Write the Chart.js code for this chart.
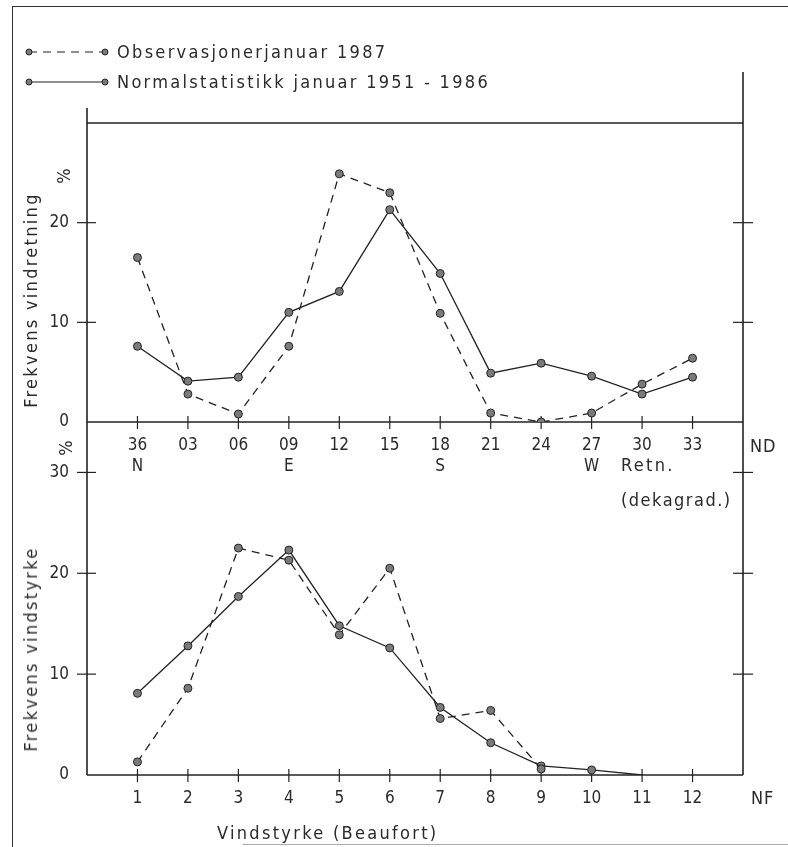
<!DOCTYPE html>
<html>
<head>
<meta charset="utf-8">
<script src="https://cdn.jsdelivr.net/npm/chart.js@4.4.0/dist/chart.umd.min.js"></script>
<style>
  body { margin: 0; background: #fff; }
  #wrap { position: relative; width: 788px; height: 847px; overflow: hidden; background: #fff; }
  canvas { position: absolute; left: 0; top: 0; }
  .frame { position: absolute; left: 12px; top: 6px; width: 776px; height: 841px;
           border-left: 1.5px solid #333; border-top: 1.5px solid #333; }
  .foot { position: absolute; left: 243px; top: 844px; width: 545px; border-top: 1px solid #aaa; }
  .lbl { position: absolute; font-family: "DejaVu Sans Condensed", "DejaVu Sans", sans-serif;
         font-size: 18px; color: #2a2a2a; white-space: nowrap; line-height: 22px; letter-spacing: 2.3px; }
  .rot { transform: translate(-50%, -50%) rotate(-90deg); }
</style>
</head>
<body>
<div id="wrap">
  <div class="frame"></div>
  <div class="foot"></div>
  <canvas id="topChart" width="788" height="847"></canvas>
  <canvas id="bottomChart" width="788" height="847"></canvas>

  <div class="lbl" style="left:117px; top:41px;">Observasjonerjanuar 1987</div>
  <div class="lbl" style="left:117px; top:71px;">Normalstatistikk januar 1951 - 1986</div>

  <div class="lbl rot" style="left:31px; top:300px;">Frekvens vindretning</div>
  <div class="lbl rot" style="left:64px; top:176px; letter-spacing:0;">%</div>
  <div class="lbl" style="left:750px; top:435px; letter-spacing:1px;">ND</div>
  <div class="lbl" style="left:621px; top:454px;">Retn.</div>
  <div class="lbl" style="left:621px; top:489px; letter-spacing:1.5px;">(dekagrad.)</div>

  <div class="lbl rot" style="left:66px; top:448px; letter-spacing:0;">%</div>
  <div class="lbl rot" style="left:31px; top:649px;">Frekvens vindstyrke</div>
  <div class="lbl" style="left:751px; top:787px; letter-spacing:1px;">NF</div>
  <div class="lbl" style="left:217px; top:822px;">Vindstyrke (Beaufort)</div>
</div>

<script>
// vindretning (dekagrader) og kompassretning
const dirLabels = ['36', '03', '06', '09', '12', '15', '18', '21', '24', '27', '30', '33'];
const compass = ['N', '', '', 'E', '', '', 'S', '', '', 'W', '', ''];
const obsDir = [16.5, 2.8, 0.8, 7.6, 24.9, 23.0, 10.9, 0.9, 0, 0.9, 3.8, 6.4];
const normDir = [7.6, 4.1, 4.5, 11.0, 13.1, 21.3, 14.9, 4.9, 5.9, 4.6, 2.8, 4.5];

// vindstyrke (Beaufort)
const bfLabels = ['1', '2', '3', '4', '5', '6', '7', '8', '9', '10', '11', '12'];
const obsBf = [1.3, 8.6, 22.5, 21.3, 13.9, 20.5, 5.6, 6.4, 0.6, null, null, null];
const normBf = [8.1, 12.8, 17.7, 22.3, 14.8, 12.6, 6.7, 3.2, 0.9, 0.5, 0, null];

const yTicksTop = [0, 10, 20];
const yTicksBottom = [0, 10, 20, 30];

const FONT = '"DejaVu Sans Condensed", "DejaVu Sans", sans-serif';
const INK = '#222';

const toPoints = arr => arr.map((v, i) => ({ x: i + 1, y: v }));

function seriesStyle(dashed) {
  return {
    borderColor: INK,
    borderWidth: 1.3,
    borderDash: dashed ? [8, 6] : [],
    pointRadius: 4,
    pointBackgroundColor: '#7a7a7a',
    pointBorderColor: '#222',
    pointBorderWidth: 1,
    spanGaps: false,
    tension: 0
  };
}

// akselinjer, kryssende tick-merker og tegnforklaring
const axesLines = {
  id: 'axesLines',
  beforeDatasetsDraw(chart, args, opts) {
    const { ctx, chartArea: a, scales: { x, y } } = chart;
    const line = (x1, y1, x2, y2) => { ctx.beginPath(); ctx.moveTo(x1, y1); ctx.lineTo(x2, y2); ctx.stroke(); };
    ctx.save();
    ctx.strokeStyle = INK;
    ctx.lineWidth = 1.6;
    line(a.left, opts.leftTop, a.left, a.bottom);
    line(a.right, opts.rightTop, a.right, a.bottom);
    line(a.left, a.bottom, a.right, a.bottom);
    if (opts.topLine) line(a.left, y.getPixelForValue(30), a.right, y.getPixelForValue(30));
    ctx.lineWidth = 1.2;
    x.ticks.forEach(t => {
      const px = x.getPixelForValue(t.value);
      line(px, a.bottom - 6, px, a.bottom + 7);
    });
    opts.yTicks.forEach(v => {
      if (v === 0) return;
      const py = y.getPixelForValue(v);
      line(a.left - 10, py, a.left + 9, py);
      line(a.right - 10, py, a.right + 10, py);
    });
    if (opts.legend) {
      chart.data.datasets.forEach((ds, i) => {
        const ly = 52 + i * 30;
        ctx.setLineDash(ds.borderDash);
        ctx.lineWidth = 1.2;
        line(29, ly, 105, ly);
        ctx.setLineDash([]);
        [29, 105].forEach(cx => {
          ctx.beginPath();
          ctx.arc(cx, ly, 3, 0, Math.PI * 2);
          ctx.fillStyle = ds.pointBackgroundColor;
          ctx.fill();
          ctx.lineWidth = 1;
          ctx.stroke();
        });
      });
    }
    ctx.restore();
  }
};

function makeChart(id, cfg) {
  return new Chart(document.getElementById(id), {
    type: 'line',
    data: {
      datasets: [
        Object.assign({ label: 'Observasjonerjanuar 1987', data: toPoints(cfg.obs) }, seriesStyle(true)),
        Object.assign({ label: 'Normalstatistikk januar 1951 - 1986', data: toPoints(cfg.norm) }, seriesStyle(false), cfg.normExtra || {})
      ]
    },
    options: {
      responsive: false,
      animation: false,
      devicePixelRatio: 1,
      layout: { padding: cfg.padding },
      plugins: {
        legend: { display: false },
        tooltip: { enabled: false },
        axesLines: cfg.axes
      },
      scales: {
        x: {
          type: 'linear',
          min: 0,
          max: 13,
          grid: { display: false, drawTicks: false },
          border: { display: false },
          afterFit: s => { s.height = cfg.xHeight; },
          afterBuildTicks: s => { s.ticks = s.ticks.filter(t => t.value >= 1 && t.value <= 12); },
          ticks: {
            stepSize: 1,
            autoSkip: false,
            maxRotation: 0,
            padding: 13,
            color: '#2a2a2a',
            font: { family: FONT, size: 17, lineHeight: 1.25 },
            callback: cfg.xLabel
          }
        },
        y: {
          min: 0,
          max: cfg.yMax,
          grid: { display: false, drawTicks: false },
          border: { display: false },
          afterFit: s => { s.width = 87; },
          afterBuildTicks: s => { s.ticks = s.ticks.filter(t => cfg.yTicks.includes(t.value)); },
          ticks: {
            stepSize: 10,
            padding: 18,
            color: '#2a2a2a',
            font: { family: FONT, size: 17 }
          }
        }
      }
    },
    plugins: [axesLines]
  });
}

makeChart('topChart', {
  obs: obsDir,
  norm: normDir,
  yMax: 30,
  yTicks: yTicksTop,
  xHeight: 425,
  padding: { left: 0, right: 45, top: 123, bottom: 0 },
  axes: { leftTop: 108, rightTop: 72, topLine: true, yTicks: yTicksTop, legend: true },
  xLabel: v => {
    const i = v - 1;
    return compass[i] ? [dirLabels[i], compass[i]] : dirLabels[i];
  }
});

makeChart('bottomChart', {
  obs: obsBf,
  norm: normBf,
  normExtra: { pointRadius: normBf.map((v, i) => (i === 10 ? 0 : 4)) },
  yMax: 35,
  yTicks: yTicksBottom,
  xHeight: 72,
  padding: { left: 0, right: 45, top: 422, bottom: 0 },
  axes: { leftTop: 422, rightTop: 422, topLine: false, yTicks: yTicksBottom, legend: false },
  xLabel: v => bfLabels[v - 1]
});
</script>
</body>
</html>
